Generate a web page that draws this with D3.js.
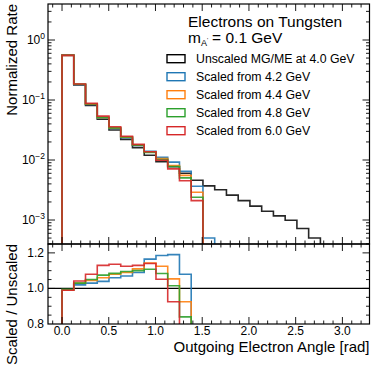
<!DOCTYPE html>
<html lang="en">
<head>
<meta charset="utf-8">
<title>Electrons on Tungsten</title>
<script src="https://d3js.org/d3.v7.min.js"></script>
<style>
  body { margin: 0; background: #fff; }
  text { font-family: "Liberation Sans", Arial, Helvetica, sans-serif; fill: #000; }
</style>
</head>
<body>
<script>
// bins: 25 bins of width pi/25 from 0 to pi
var nBins = 25;
var binWidth = Math.PI / nBins;

// normalized rate per bin (top panel)
var unscaled = [0.56, 0.178, 0.0815, 0.0477, 0.0316, 0.0221, 0.0161, 0.0120, 0.0094, 0.0077, 0.0060,
                0.0046, 0.0037, 0.0032, 0.0026, 0.0021, 0.0017, 0.0014, 0.00117, 0.00099, 0.00072, 0.0005];
var scaled42 = [0.554, 0.182, 0.0839, 0.0496, 0.0335, 0.0236, 0.0175, 0.0140, 0.0111, 0.0092, 0.0065, 0.00365, 0.0005];
var scaled44 = [0.554, 0.183, 0.0852, 0.0506, 0.0341, 0.0241, 0.0179, 0.0137, 0.0106, 0.0081, 0.00555, 0.0029];
var scaled48 = [0.557, 0.183, 0.0856, 0.0513, 0.0343, 0.0242, 0.0177, 0.0133, 0.0102, 0.0078, 0.00504, 0.0024];
var scaled60 = [0.554, 0.185, 0.088, 0.0539, 0.0359, 0.0249, 0.0182, 0.0137, 0.0099, 0.0071, 0.0045, 0.0021];

// scaled / unscaled per bin (bottom panel)
var ratio42 = [0.99, 1.02, 1.03, 1.04, 1.06, 1.07, 1.09, 1.165, 1.185, 1.19, 1.08, 0.79, 0.14];
var ratio44 = [0.99, 1.03, 1.045, 1.06, 1.08, 1.09, 1.11, 1.143, 1.125, 1.054, 0.925, 0.63];
var ratio48 = [0.995, 1.03, 1.05, 1.075, 1.085, 1.095, 1.10, 1.108, 1.084, 1.015, 0.84, 0.52];
var ratio60 = [0.99, 1.042, 1.08, 1.13, 1.136, 1.125, 1.13, 1.14, 1.052, 0.925, 0.75, 0.46];

var labels = ["Unscaled MG/ME at 4.0 GeV", "Scaled from 4.2 GeV", "Scaled from 4.4 GeV",
              "Scaled from 4.8 GeV", "Scaled from 6.0 GeV"];
var colors = ["#000000", "#1f77b4", "#ff7f0e", "#2ca02c", "#d62728"];
var xTicks = [0, 0.5, 1.0, 1.5, 2.0, 2.5, 3.0];
var yTopTicks = [0, -1, -2, -3];
var yBotTicks = [0.8, 1.0, 1.2];

var w = 374, h = 369;
var left = 48, right = 369.5;
var topY0 = 4, topY1 = 244, botY0 = 244, botY1 = 324;

var svg = d3.select("body").append("svg")
  .attr("width", w).attr("height", h);

var xScale = d3.scaleLinear().domain([-0.15, 3.29]).range([left, right]);
var yTop = d3.scaleLog().domain([Math.pow(10, -3.4), Math.pow(10, 0.6)]).range([topY1, topY0]);
var yBot = d3.scaleLinear().domain([0.8, 1.25]).range([botY1, botY0]);

var defs = svg.append("defs");
defs.append("clipPath").attr("id", "clipTop").append("rect")
  .attr("x", left).attr("y", topY0).attr("width", right - left).attr("height", topY1 - topY0);
defs.append("clipPath").attr("id", "clipBot").append("rect")
  .attr("x", left).attr("y", botY0).attr("width", right - left).attr("height", botY1 - botY0);

// step path starting and ending below the panel
function stepPath(vals, ys, floorY) {
  var p = d3.path();
  p.moveTo(xScale(0), floorY);
  vals.forEach(function(v, i) {
    var yy = ys(v);
    p.lineTo(xScale(i * binWidth), yy);
    p.lineTo(xScale((i + 1) * binWidth), yy);
  });
  p.lineTo(xScale(vals.length * binWidth), floorY);
  return p.toString();
}

var topSeries = [unscaled, scaled42, scaled44, scaled48, scaled60];
var botSeries = [ratio42, ratio44, ratio48, ratio60];

var gTop = svg.append("g").attr("clip-path", "url(#clipTop)");
topSeries.forEach(function(s, i) {
  gTop.append("path")
    .attr("d", stepPath(s, yTop, topY1 + 20))
    .attr("fill", "none")
    .attr("stroke", colors[i])
    .attr("stroke-width", 1.6)
    .attr("stroke-opacity", i == 0 ? 0.85 : 0.9);
});

var gBot = svg.append("g").attr("clip-path", "url(#clipBot)");
gBot.append("line")
  .attr("x1", left).attr("x2", right)
  .attr("y1", yBot(1)).attr("y2", yBot(1))
  .attr("stroke", "#000").attr("stroke-width", 1.2);
botSeries.forEach(function(s, i) {
  gBot.append("path")
    .attr("d", stepPath(s, yBot, botY1 + 20))
    .attr("fill", "none")
    .attr("stroke", colors[i + 1])
    .attr("stroke-width", 1.6)
    .attr("stroke-opacity", 0.9);
});

// ticks (inward, all four sides)
var majorLen = 7, minorLen = 3.5;
var tickG = svg.append("g").attr("stroke", "#000").attr("stroke-width", 0.9);

function xTicksFor(y0, y1) {
  d3.range(0, 33).forEach(function(k) {
    var v = k / 10;
    var xx = xScale(v);
    if (xx <= left || xx >= right) return;
    var len = (k % 5 == 0) ? majorLen : minorLen;
    tickG.append("line").attr("x1", xx).attr("x2", xx).attr("y1", y1).attr("y2", y1 - len);
    tickG.append("line").attr("x1", xx).attr("x2", xx).attr("y1", y0).attr("y2", y0 + len);
  });
  tickG.append("line").attr("x1", xScale(-0.1)).attr("x2", xScale(-0.1)).attr("y1", y1).attr("y2", y1 - minorLen);
  tickG.append("line").attr("x1", xScale(-0.1)).attr("x2", xScale(-0.1)).attr("y1", y0).attr("y2", y0 + minorLen);
}
xTicksFor(topY0, topY1);
xTicksFor(botY0, botY1);

function yTick(yy, len) {
  tickG.append("line").attr("x1", left).attr("x2", left + len).attr("y1", yy).attr("y2", yy);
  tickG.append("line").attr("x1", right).attr("x2", right - len).attr("y1", yy).attr("y2", yy);
}
[-4, -3, -2, -1, 0].forEach(function(e) {
  d3.range(1, 10).forEach(function(m) {
    var v = m * Math.pow(10, e);
    var yy = yTop(v);
    if (yy <= topY0 || yy >= topY1) return;
    yTick(yy, m == 1 ? majorLen : minorLen);
  });
});
d3.range(0.8, 1.26, 0.05).forEach(function(v) {
  var yy = yBot(v);
  if (yy <= botY0 + 0.5 || yy >= botY1 - 0.5) return;
  var major = Math.abs(Math.round(v * 10) - v * 10) < 1e-6 && Math.round(v * 10) % 2 == 0;
  yTick(yy, major ? majorLen : minorLen);
});

// frames
svg.append("rect").attr("x", left).attr("y", topY0).attr("width", right - left).attr("height", topY1 - topY0)
  .attr("fill", "none").attr("stroke", "#000").attr("stroke-width", 1.2);
svg.append("rect").attr("x", left).attr("y", botY0).attr("width", right - left).attr("height", botY1 - botY0)
  .attr("fill", "none").attr("stroke", "#000").attr("stroke-width", 1.2);

// tick labels
var fs = 12;
xTicks.forEach(function(v) {
  svg.append("text").attr("x", xScale(v)).attr("y", 335)
    .attr("text-anchor", "middle").attr("font-size", fs).text(v.toFixed(1));
});
yBotTicks.forEach(function(v) {
  svg.append("text").attr("x", 44).attr("y", yBot(v) + 4)
    .attr("text-anchor", "end").attr("font-size", fs).text(v.toFixed(1));
});
yTopTicks.forEach(function(e) {
  var t = svg.append("text").attr("x", 45).attr("y", yTop(Math.pow(10, e)) + 4)
    .attr("text-anchor", "end").attr("font-size", fs);
  t.append("tspan").text("10");
  t.append("tspan").attr("dy", -5).attr("font-size", 8.5).text(e == 0 ? "0" : "\u2212" + (-e));
});

// axis titles
svg.append("text").attr("transform", "translate(17," + topY0 + ") rotate(-90)")
  .attr("text-anchor", "end").attr("font-size", 15).text("Normalized Rate");
svg.append("text").attr("transform", "translate(17," + botY0 + ") rotate(-90)")
  .attr("text-anchor", "end").attr("font-size", 15).text("Scaled / Unscaled");
svg.append("text").attr("x", right).attr("y", 352)
  .attr("text-anchor", "end").attr("font-size", 15).text("Outgoing Electron Angle [rad]");

// legend
svg.append("text").attr("x", 188).attr("y", 27).attr("font-size", 15.5).text("Electrons on Tungsten");
var mt = svg.append("text").attr("x", 188).attr("y", 43).attr("font-size", 15.5);
mt.append("tspan").text("m");
mt.append("tspan").attr("dy", 3).attr("font-size", 9).text("A");
mt.append("tspan").attr("dy", -4).attr("font-size", 6).text("'");
mt.append("tspan").attr("dy", 1).attr("dx", 4).text("= 0.1 GeV");

labels.forEach(function(l, i) {
  var cy = 58.7 + i * 18;
  svg.append("rect").attr("x", 167).attr("y", cy - 4).attr("width", 18).attr("height", 8)
    .attr("fill", "none").attr("stroke", colors[i]).attr("stroke-width", 1.4);
  svg.append("text").attr("x", 196).attr("y", cy + 4.5).attr("font-size", 12.3).text(l);
});
</script>
</body>
</html>
